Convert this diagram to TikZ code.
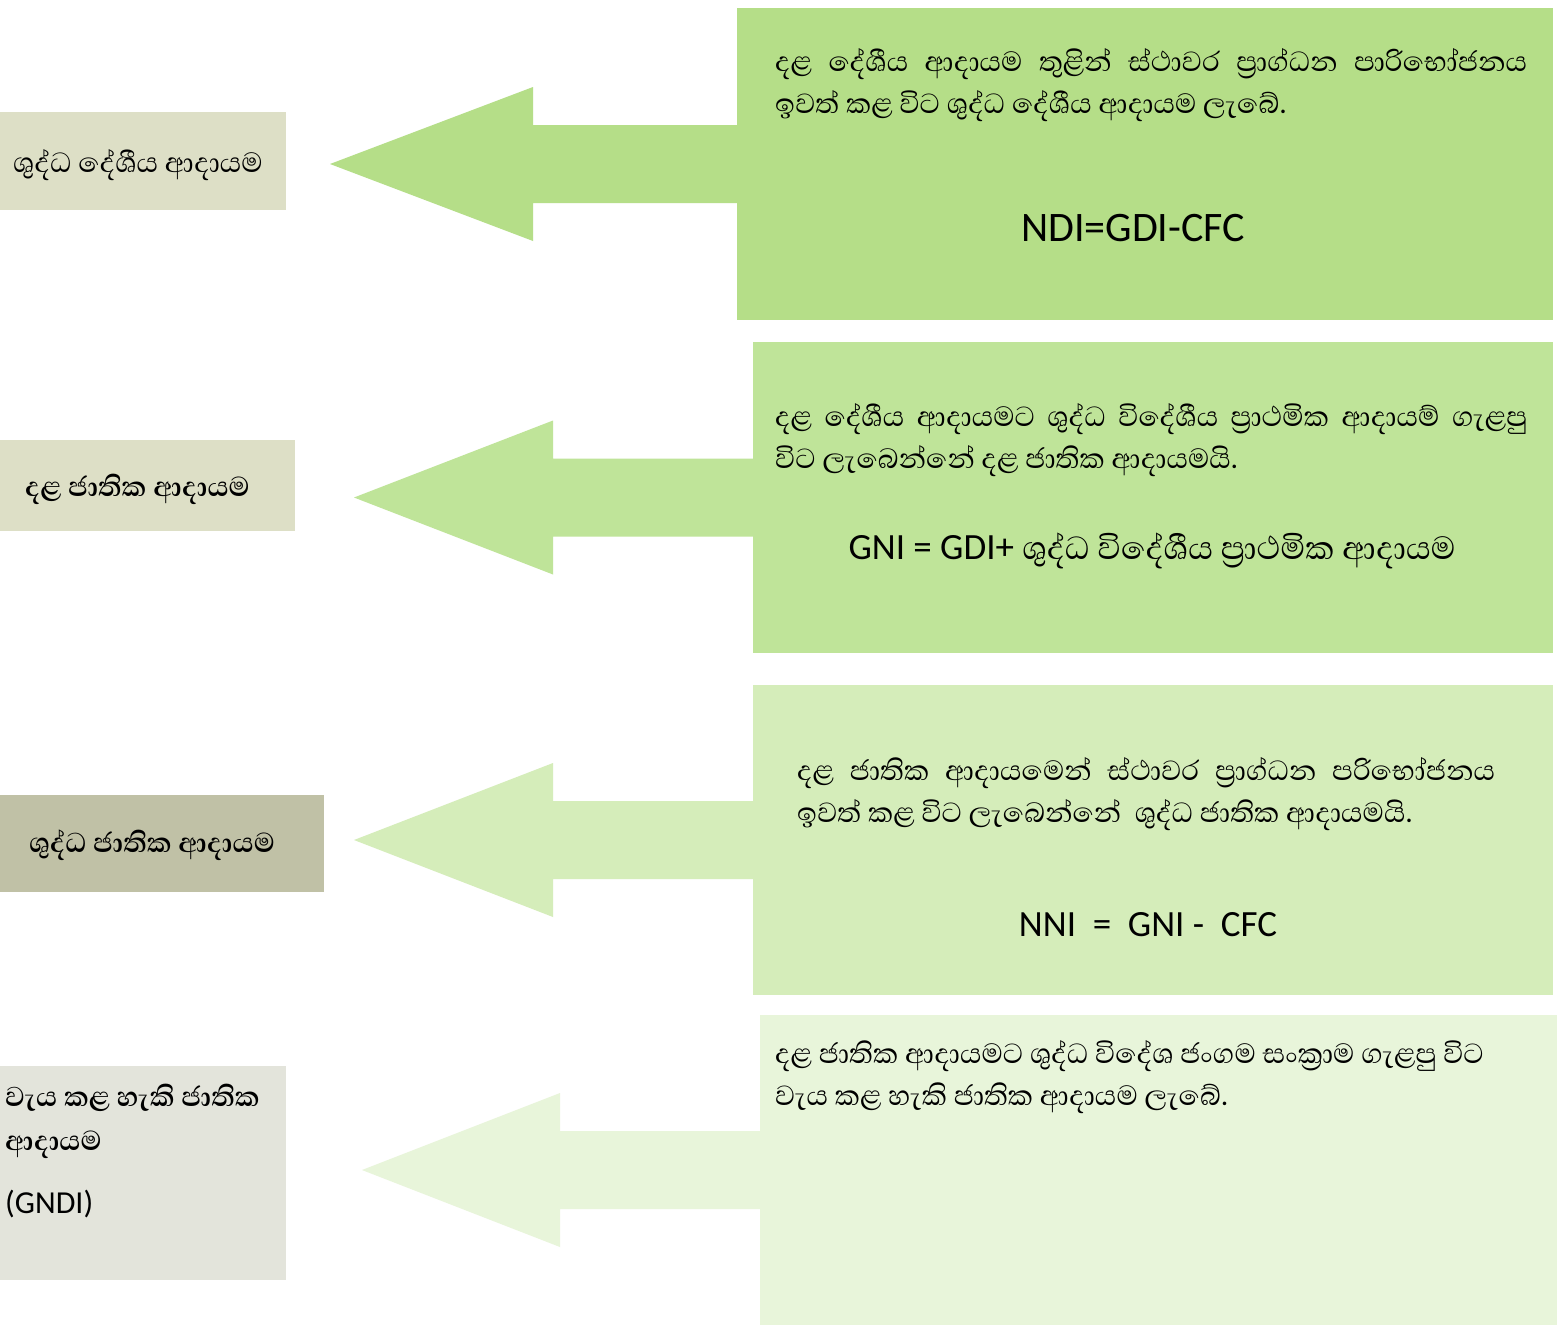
\documentclass[tikz,border=0pt]{standalone}
\usepackage{fontspec}
\setmainfont{Carlito}
\newfontfamily\sinhfont[Script=Sinhala]{Abhaya Libre}
\usetikzlibrary{calc}
\definecolor{gA}{RGB}{181,222,136}
\definecolor{gB}{RGB}{191,228,153}
\definecolor{gC}{RGB}{213,237,186}
\definecolor{gD}{RGB}{232,245,218}
\definecolor{lA}{RGB}{221,223,198}
\definecolor{lC}{RGB}{192,193,166}
\definecolor{lD}{RGB}{227,228,219}
\tikzset{
  x=1pt,y=-1pt,
  rbox/.style={inner sep=0pt,outer sep=0pt,anchor=north west},
  para/.style={inner sep=0pt,anchor=north west,align=left,font=\sinhfont\fontsize{35.5}{42}\selectfont},
  lbl/.style={inner sep=0pt,font=\sinhfont\fontsize{35.5}{44}\selectfont},
  lblb/.style={lbl,font=\sinhfont\bfseries\fontsize{35}{44}\selectfont},
  formula/.style={inner sep=0pt,font=\fontsize{37}{44}\selectfont},
}
\newcommand\myBlockArrow[4]{%
  \fill[#2] ($(#1.west)+(1,-39)$) -- ($(#1.west)+(-#4,-39)$) -- ($(#1.west)+(-#4,-77)$) --
    ($(#1.west)+(-#3,0)$) -- ($(#1.west)+(-#4,77)$) -- ($(#1.west)+(-#4,39)$) -- ($(#1.west)+(1,39)$) -- cycle;}
\begin{document}
\begin{tikzpicture}
\useasboundingbox (0,0) rectangle (1557,1325);
\fill[white] (0,0) rectangle (1557,1325);
% ---------- row 1
\node[rbox,fill=lA,minimum width=286pt,minimum height=98pt] (L1) at (0,112) {};
\node[lbl] (T1) at ($(L1.center)+(-5,4)$) {ශුද්ධ දේශීය ආදායම};
\node[rbox,fill=gA,minimum width=816pt,minimum height=312pt] (R1) at (737,8) {};
\myBlockArrow{R1}{gA}{407}{204}
\node[para] (P1) at ($(R1.north west)+(38,40)$) {\makebox[752pt][s]{දළ දේශීය ආදායම තුළින් ස්ථාවර ප්^^^^200dරාග්ධන පාරිභෝජනය}\\ඉවත් කළ විට ශුද්ධ දේශීය ආදායම ලැබේ.};
\node[formula,font=\fontsize{42}{48}\selectfont] (F1) at (1133,228) {NDI=GDI-CFC};
% ---------- row 2
\node[rbox,fill=lA,minimum width=295pt,minimum height=91pt] (L2) at (0,440) {};
\node[lblb] (T2) at ($(L2.center)+(-10,4)$) {දළ ජාතික ආදායම};
\node[rbox,fill=gB,minimum width=800pt,minimum height=311pt] (R2) at (753,342) {};
\myBlockArrow{R2}{gB}{399}{200}
\node[para] (P2) at ($(R2.north west)+(22,61)$) {\makebox[752pt][s]{දළ දේශීය ආදායමට ශුද්ධ විදේශීය ප්^^^^200dරාථමික ආදායම් ගැළපු}\\විට ලැබෙන්නේ දළ ජාතික ආදායමයි.};
\node[formula] (F2) at (1152,551) {GNI = GDI+ {\sinhfont\fontsize{41}{44}\selectfont ශුද්ධ විදේශීය ප්^^^^200dරාථමික ආදායම}};
% ---------- row 3
\node[rbox,fill=lC,minimum width=324pt,minimum height=97pt] (L3) at (0,795) {};
\node[lblb] (T3) at ($(L3.center)+(-10,2)$) {ශුද්ධ ජාතික ආදායම};
\node[rbox,fill=gC,minimum width=800pt,minimum height=310pt] (R3) at (753,685) {};
\myBlockArrow{R3}{gC}{399}{200}
\node[para] (P3) at ($(R3.north west)+(44,72)$) {\makebox[698pt][s]{දළ ජාතික ආදායමෙන් ස්ථාවර ප්^^^^200dරාග්ධන පරිභෝජනය}\\ඉවත් කළ විට ලැබෙන්නේ \ ශුද්ධ ජාතික ආදායමයි.};
\node[formula] (F3) at (1148,925) {NNI \ = \ GNI - \ CFC};
% ---------- row 4
\node[rbox,fill=lD,minimum width=286pt,minimum height=214pt] (L4) at (0,1066) {};
\node[lblb,anchor=north west,align=left] (T4) at ($(L4.north west)+(5,18)$) {වැය කළ හැකි ජාතික\\ආදායම\\[19pt]{\mdseries\rmfamily\fontsize{32}{36}\selectfont (GNDI)}};
\node[rbox,fill=gD,minimum width=797pt,minimum height=310pt] (R4) at (760,1015) {};
\myBlockArrow{R4}{gD}{398}{200}
\node[para] (P4) at ($(R4.north west)+(15,25)$) {දළ ජාතික ආදායමට ශුද්ධ විදේශ ජංගම සංක්^^^^200dරාම ගැළපු විට\\වැය කළ හැකි ජාතික ආදායම ලැබේ.};
\end{tikzpicture}
\end{document}
